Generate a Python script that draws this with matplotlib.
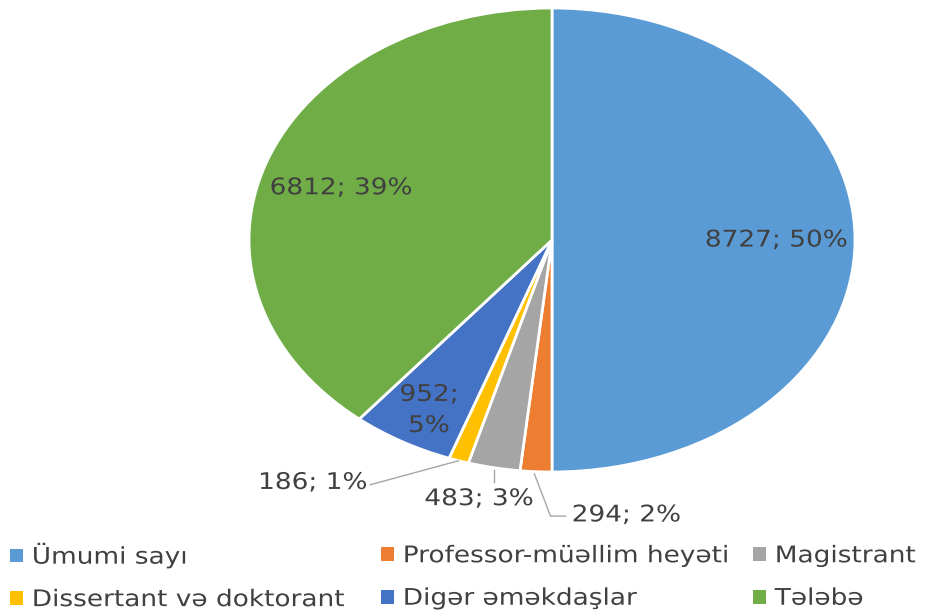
import numpy as np
import matplotlib.pyplot as plt
from matplotlib.patheffects import AbstractPathEffect
from matplotlib.transforms import Affine2D

plt.rcParams['font.family'] = ['DejaVu Sans']

# Data
categories = ['Ümumi sayı', 'Professor-müəllim heyəti', 'Magistrant',
              'Dissertant və doktorant', 'Digər əməkdaşlar', 'Tələbə']
values = [8727, 294, 483, 186, 952, 6812]
colors = ['#5B9BD5', '#ED7D31', '#A5A5A5', '#FFC000', '#4472C4', '#70AD47']
text_color = '#404040'


class Stretch(AbstractPathEffect):
    """Widen text horizontally (the original's fonts look stretched)."""
    def __init__(self, sx, anchor='left'):
        super().__init__()
        self.sx = sx
        self.anchor = anchor

    def draw_path(self, renderer, gc, tpath, affine, rgbFace=None):
        ext = tpath.get_extents()
        x0 = {'left': 0, 'center': (ext.x0 + ext.x1) / 2, 'right': ext.x1}[self.anchor]
        t = Affine2D().translate(-x0, 0).scale(self.sx, 1).translate(x0, 0)
        renderer.draw_path(gc, tpath, t + affine, rgbFace)


SX = 1.15
fs = 16.5

fig = plt.figure(figsize=(9.26, 6.15), dpi=100)
# stretched (elliptical) pie, like the Excel original
ax = fig.add_axes([249 / 926, 1 - 472 / 615, 606 / 926, 464 / 615])

wedges, _ = ax.pie(values, colors=colors, startangle=90, counterclock=False,
                   wedgeprops=dict(edgecolor='white', linewidth=2))
ax.set_aspect('auto')
ax.set_xlim(-1, 1)
ax.set_ylim(-1, 1)
ax.axis('off')

total = sum(values)
labels = [f'{v}; {round(v / total * 100):.0f}%' for v in values]


def mid_point(w, r):
    a = np.deg2rad((w.theta1 + w.theta2) / 2)
    return r * np.cos(a), r * np.sin(a)


def label(x, y, s, ha, **kw):
    t = ax.text(x, y, s, ha=ha, va='center', fontsize=fs, color=text_color, **kw)
    t.set_path_effects([Stretch(SX, ha)])
    return t


# inside labels
x, y = mid_point(wedges[0], 0.74)
label(x, y, labels[0], 'center')
x, y = mid_point(wedges[5], 0.74)
label(x, y - 0.025, labels[5], 'center')
x, y = mid_point(wedges[4], 0.78)
label(x - 0.02, y - 0.055, labels[4].replace(' ', '\n'), 'center', linespacing=1.45)

line_kw = dict(color='#A6A6A6', lw=1, clip_on=False)
# 186; 1%
xe, ye = mid_point(wedges[3], 1.0)
ax.plot([xe, -0.60], [ye, -1.055], **line_kw)
label(-0.61, -1.045, labels[3], 'right')
# 483; 3%
xe, ye = mid_point(wedges[2], 1.0)
ax.plot([xe, xe], [ye - 0.01, -1.045], **line_kw)
label(xe - 0.05, -1.115, labels[2], 'center')
# 294; 2%
xe, ye = mid_point(wedges[1], 1.0)
ax.plot([xe - 0.005, -0.005, 0.045], [ye - 0.01, -1.19, -1.19], **line_kw)
label(0.065, -1.185, labels[1], 'left')

# legend: three columns, filled row by row
columns = [[0, 3], [1, 4], [2, 5]]
col_x = [10 / 926, 381 / 926, 753 / 926]
for idx, cx in zip(columns, col_x):
    leg = fig.legend([wedges[i] for i in idx], [categories[i] for i in idx],
                     loc='center left', bbox_to_anchor=(cx, 1 - 577 / 615),
                     frameon=False, fontsize=fs, handlelength=0.55, handleheight=0.55,
                     handletextpad=0.4, labelspacing=0.85, labelcolor=text_color,
                     borderpad=0, borderaxespad=0)
    for h in leg.legend_handles:
        h.set_edgecolor('none')
    for t in leg.get_texts():
        t.set_path_effects([Stretch(SX, 'left')])

fig.savefig('out.png', dpi=100)
